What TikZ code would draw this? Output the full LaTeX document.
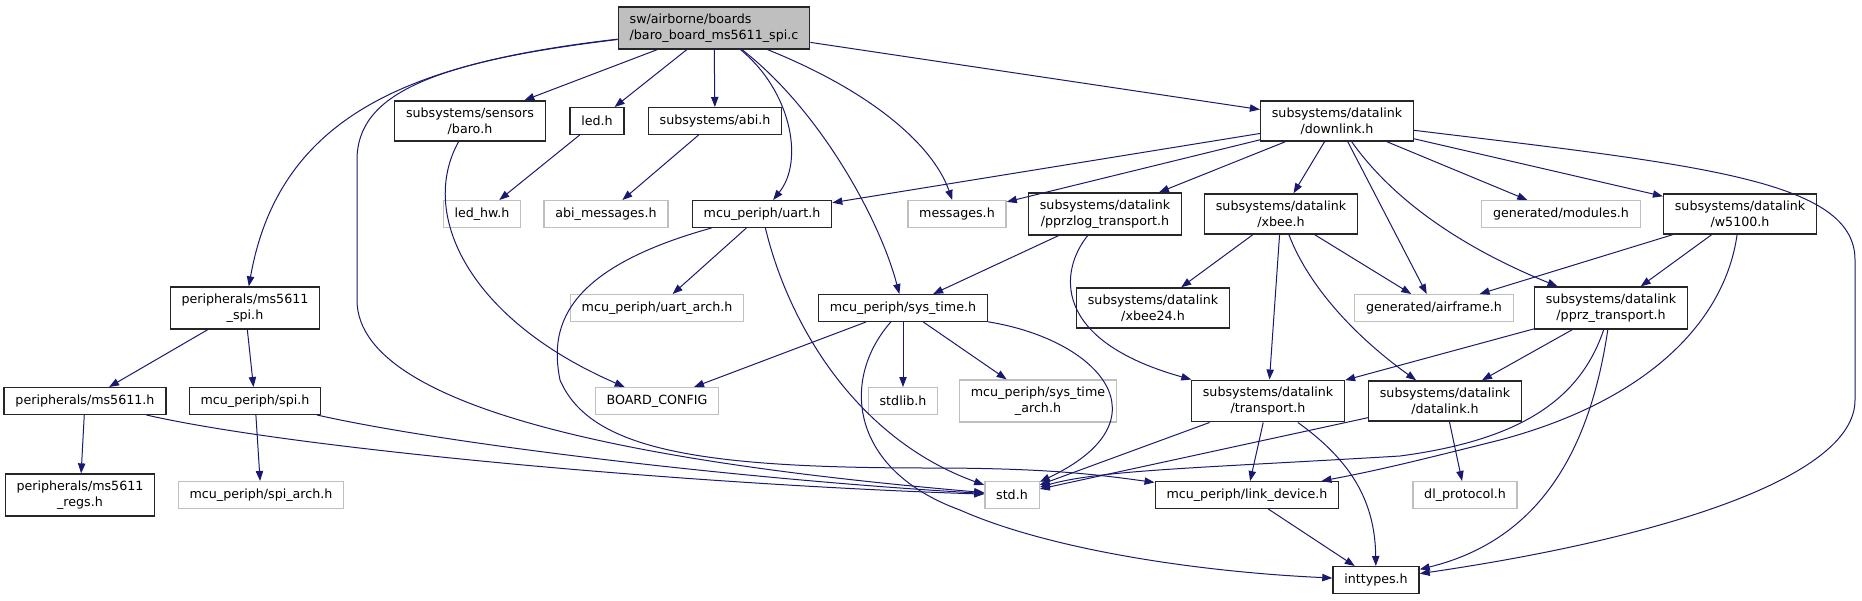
\documentclass[tikz,border=0pt]{standalone}
\usepackage{fontspec}
\setmainfont{DejaVu Sans}
\usetikzlibrary{arrows.meta}
\definecolor{edgeblue}{HTML}{191970}
\definecolor{ghostgray}{HTML}{BFBFBF}
\begin{document}
\begin{tikzpicture}[
        x=0.75pt, y=-0.75pt,
        block/.style={draw=black!85, line width=1pt, fill=white, align=center, inner xsep=8.5pt, inner ysep=5pt, minimum height=20pt, font=\fontsize{9.5}{12}\selectfont},
        ghost/.style={block, draw=ghostgray},
        rootfile/.style={block, fill=ghostgray, align=left},
        inc/.style={->, draw=edgeblue, line width=0.75pt},
        >={Triangle[length=7.5pt,width=5.5pt]}
    ]
        \useasboundingbox (0,0) rectangle (1862,600);

        % top file
        \node[rootfile] (root) at (714,28) {sw/airborne/boards\\/baro\_board\_ms5611\_spi.c};

        % first level
        \node[block] (baro) at (470,121) {subsystems/sensors\\/baro.h};
        \node[block] (led) at (597,121) {led.h};
        \node[block] (abi) at (715,121) {subsystems/abi.h};
        \node[block] (downlink) at (1337,121) {subsystems/datalink\\/downlink.h};

        % second level
        \node[ghost] (ledhw) at (482,214) {led\_hw.h};
        \node[ghost] (abimsg) at (606,214) {abi\_messages.h};
        \node[block] (uart) at (762,214) {mcu\_periph/uart.h};
        \node[ghost] (messages) at (957,214) {messages.h};
        \node[block] (pprzlog) at (1105,214) {subsystems/datalink\\/pprzlog\_transport.h};
        \node[block] (xbee) at (1281,214) {subsystems/datalink\\/xbee.h};
        \node[ghost] (modules) at (1561,214) {generated/modules.h};
        \node[block] (w5100) at (1740,214) {subsystems/datalink\\/w5100.h};

        % third level
        \node[block] (ms5611spi) at (245,308) {peripherals/ms5611\\\_spi.h};
        \node[ghost] (uartarch) at (657,308) {mcu\_periph/uart\_arch.h};
        \node[block] (systime) at (903,308) {mcu\_periph/sys\_time.h};
        \node[block] (xbee24) at (1153,308) {subsystems/datalink\\/xbee24.h};
        \node[ghost] (airframe) at (1434,308) {generated/airframe.h};
        \node[block] (pprz) at (1611,308) {subsystems/datalink\\/pprz\_transport.h};

        % fourth level
        \node[block] (ms5611) at (85,401) {peripherals/ms5611.h};
        \node[block] (spi) at (255,401) {mcu\_periph/spi.h};
        \node[ghost] (board) at (657,401) {BOARD\_CONFIG};
        \node[ghost] (stdlib) at (903,401) {stdlib.h};
        \node[ghost] (systimearch) at (1038,401) {mcu\_periph/sys\_time\\\_arch.h};
        \node[block] (transport) at (1268,401) {subsystems/datalink\\/transport.h};
        \node[block] (datalink) at (1445,401) {subsystems/datalink\\/datalink.h};

        % fifth level
        \node[block] (regs) at (80,495) {peripherals/ms5611\\\_regs.h};
        \node[ghost] (spiarch) at (261,495) {mcu\_periph/spi\_arch.h};
        \node[ghost] (std) at (1012,495) {std.h};
        \node[block] (linkdev) at (1247,495) {mcu\_periph/link\_device.h};
        \node[ghost] (dlproto) at (1465,495) {dl\_protocol.h};

        % bottom
        \node[block] (inttypes) at (1376,580) {inttypes.h};

        % includes of the top file
        \draw[inc] (root) .. controls (420,62) and (280,110) .. (ms5611spi);
        \draw[inc] (root) .. controls (430,62) and (357,95) .. (357,160) -- (357,300) .. controls (357,420) and (700,468) .. (std);
        \draw[inc] (root) -- (baro);
        \draw[inc] (root) -- (led);
        \draw[inc] (root) -- (abi);
        \draw[inc] (root) .. controls (790,90) and (805,160) .. (uart);
        \draw[inc] (root) .. controls (820,110) and (880,220) .. (systime);
        \draw[inc] (root) .. controls (880,95) and (935,150) .. (messages);
        \draw[inc] (root) -- (downlink);

        % first level
        \draw[inc] (baro) .. controls (418,215) and (470,320) .. (board);
        \draw[inc] (led) -- (ledhw);
        \draw[inc] (abi) -- (abimsg);
        \draw[inc] (downlink) -- (uart);
        \draw[inc] (downlink) -- (messages);
        \draw[inc] (downlink) -- (pprzlog);
        \draw[inc] (downlink) -- (xbee);
        \draw[inc] (downlink) -- (airframe);
        \draw[inc] (downlink) .. controls (1400,210) and (1480,255) .. (pprz);
        \draw[inc] (downlink) -- (modules);
        \draw[inc] (downlink) -- (w5100);
        \draw[inc] (downlink) .. controls (1700,165) and (1855,180) .. (1855,260) -- (1855,400) .. controls (1855,480) and (1650,540) .. (inttypes);

        % second level
        \draw[inc] (uart) -- (uartarch);
        \draw[inc] (uart) .. controls (790,330) and (860,440) .. (std);
        \draw[inc] (uart) .. controls (560,270) and (550,330) .. (560,380) .. controls (590,450) and (700,468) .. (930,468) .. controls (1050,468) and (1100,475) .. (linkdev);
        \draw[inc] (pprzlog) -- (systime);
        \draw[inc] (pprzlog) .. controls (1060,270) and (1050,340) .. (transport);
        \draw[inc] (xbee) -- (xbee24);
        \draw[inc] (xbee) -- (transport);
        \draw[inc] (xbee) .. controls (1310,290) and (1360,340) .. (datalink);
        \draw[inc] (xbee) -- (airframe);
        \draw[inc] (w5100) -- (airframe);
        \draw[inc] (w5100) -- (pprz);
        \draw[inc] (w5100) .. controls (1725,320) and (1650,400) .. (1500,440) .. controls (1420,460) and (1380,470) .. (linkdev);

        % third level
        \draw[inc] (ms5611spi) -- (ms5611);
        \draw[inc] (ms5611spi) -- (spi);
        \draw[inc] (systime) -- (board);
        \draw[inc] (systime) -- (stdlib);
        \draw[inc] (systime) -- (systimearch);
        \draw[inc] (systime) .. controls (1100,340) and (1170,420) .. (std);
        \draw[inc] (systime) .. controls (840,380) and (850,470) .. (960,510) .. controls (1050,550) and (1200,572) .. (inttypes);
        \draw[inc] (pprz) -- (transport);
        \draw[inc] (pprz) -- (datalink);
        \draw[inc] (pprz) .. controls (1580,400) and (1520,440) .. (1400,456) .. controls (1200,468) and (1100,470) .. (std);
        \draw[inc] (pprz) .. controls (1590,450) and (1540,540) .. (inttypes);

        % fourth level
        \draw[inc] (ms5611) -- (regs);
        \draw[inc] (ms5611) .. controls (300,450) and (700,485) .. (std);
        \draw[inc] (spi) -- (spiarch);
        \draw[inc] (spi) .. controls (450,445) and (750,480) .. (std);
        \draw[inc] (transport) -- (std);
        \draw[inc] (transport) -- (linkdev);
        \draw[inc] (transport) .. controls (1350,460) and (1375,500) .. (inttypes);
        \draw[inc] (datalink) -- (std);
        \draw[inc] (datalink) -- (dlproto);

        % last level
        \draw[inc] (linkdev) -- (inttypes);
    \end{tikzpicture}
\end{document}
